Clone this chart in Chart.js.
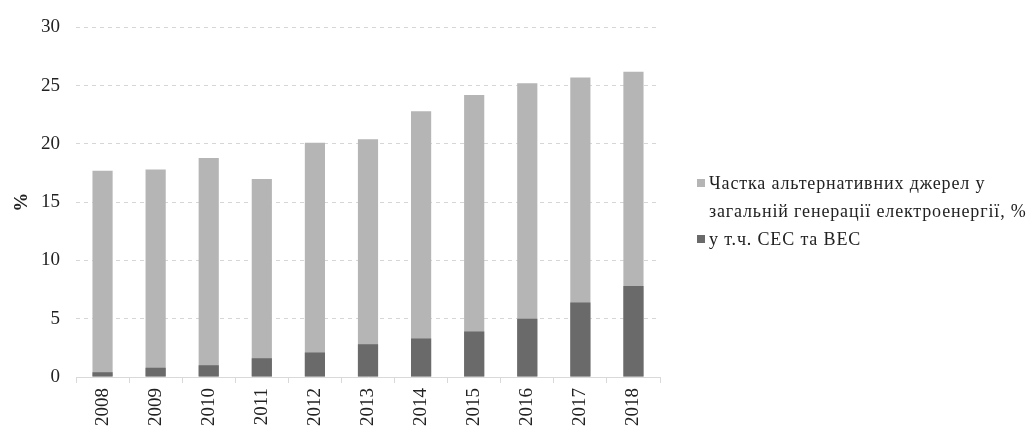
<!DOCTYPE html>
<html>
<head>
<meta charset="utf-8">
<script src="https://cdn.jsdelivr.net/npm/chart.js@4.4.0/dist/chart.umd.min.js"></script>
<style>
  html, body { margin: 0; padding: 0; background: #fff; }
  #wrap { position: relative; width: 1031px; height: 430px; overflow: hidden; }
  #legend {
    position: absolute; left: 695px; top: 169px;
    font-family: "Liberation Serif", "DejaVu Serif", serif;
    font-size: 18px; color: #222; line-height: 28px; letter-spacing: 0.85px;
    white-space: nowrap;
  }
  .item { position: relative; padding-left: 14px; }
  .item .box { position: absolute; left: 2px; top: 10px; width: 8px; height: 8px; }
</style>
</head>
<body>
<div id="wrap">
  <canvas id="chart" width="1031" height="430"></canvas>
  <div id="legend"></div>
</div>
<script>
/** Overlapping bars: total alternative share vs. solar + wind share */

// Data
const years = ['2008', '2009', '2010', '2011', '2012', '2013', '2014', '2015', '2016', '2017', '2018'];
const altShare = [17.7, 17.8, 18.8, 17.0, 20.1, 20.4, 22.8, 24.2, 25.2, 25.7, 26.2];
const sesVesShare = [0.4, 0.8, 1.0, 1.6, 2.1, 2.8, 3.3, 3.9, 5.0, 6.4, 7.8];
const seriesNames = ['Частка альтернативних джерел у загальній генерації електроенергії, %', 'у т.ч. СЕС та ВЕС'];
const yTicks = [0, 5, 10, 15, 20, 25, 30];

const lightGrey = '#b5b5b5';
const darkGrey = '#6a6a6a';
const serif = '"Liberation Serif", "DejaVu Serif", serif';

document.addEventListener('DOMContentLoaded', () => {
    const ctx = document.getElementById('chart');
    new Chart(ctx, {
        type: 'bar',
        data: {
            labels: years,
            datasets: [{
                label: seriesNames[0],
                data: altShare,
                backgroundColor: lightGrey,
                grouped: false,
                order: 1,
                barPercentage: 0.38,
                categoryPercentage: 1
            }, {
                label: seriesNames[1],
                data: sesVesShare,
                backgroundColor: darkGrey,
                grouped: false,
                order: 0,
                barPercentage: 0.38,
                categoryPercentage: 1
            }]
        },
        options: {
            responsive: false,
            animation: false,
            layout: { padding: { left: 0, right: 371, top: 22, bottom: 0 } },
            plugins: {
                legend: { display: false },
                tooltip: { enabled: false }
            },
            scales: {
                x: {
                    grid: {
                        drawOnChartArea: false,
                        color: '#d9d9d9',
                        tickLength: 6
                    },
                    border: { color: '#d9d9d9' },
                    ticks: {
                        minRotation: 90,
                        maxRotation: 90,
                        padding: 5,
                        color: '#222',
                        font: { family: serif, size: 19 }
                    },
                    afterFit: (scale) => { scale.height = 53; }
                },
                y: {
                    min: 0,
                    max: 30,
                    afterBuildTicks: (scale) => { scale.ticks = yTicks.map(v => ({ value: v })); },
                    grid: {
                        color: '#d6d6d6',
                        drawTicks: false
                    },
                    border: { display: false, dash: [4, 4] },
                    ticks: {
                        padding: 16,
                        color: '#222',
                        font: { family: serif, size: 19 }
                    },
                    title: {
                        display: true,
                        text: '%',
                        color: '#222',
                        font: { family: serif, size: 19, weight: 'bold' },
                        padding: { top: 11, bottom: 0 }
                    },
                    afterFit: (scale) => { scale.width = 76; }
                }
            }
        }
    });

    // HTML legend so the long label can wrap onto two lines
    const legend = document.getElementById('legend');
    const colors = [lightGrey, darkGrey];
    const lines = [['Частка альтернативних джерел у', 'загальній генерації електроенергії, %'], [seriesNames[1]]];
    lines.forEach((txt, i) => {
        const div = document.createElement('div');
        div.className = 'item';
        div.innerHTML = '<span class="box" style="background:' + colors[i] + '"></span>' + txt.join('<br>');
        legend.appendChild(div);
    });
});
</script>
</body>
</html>
